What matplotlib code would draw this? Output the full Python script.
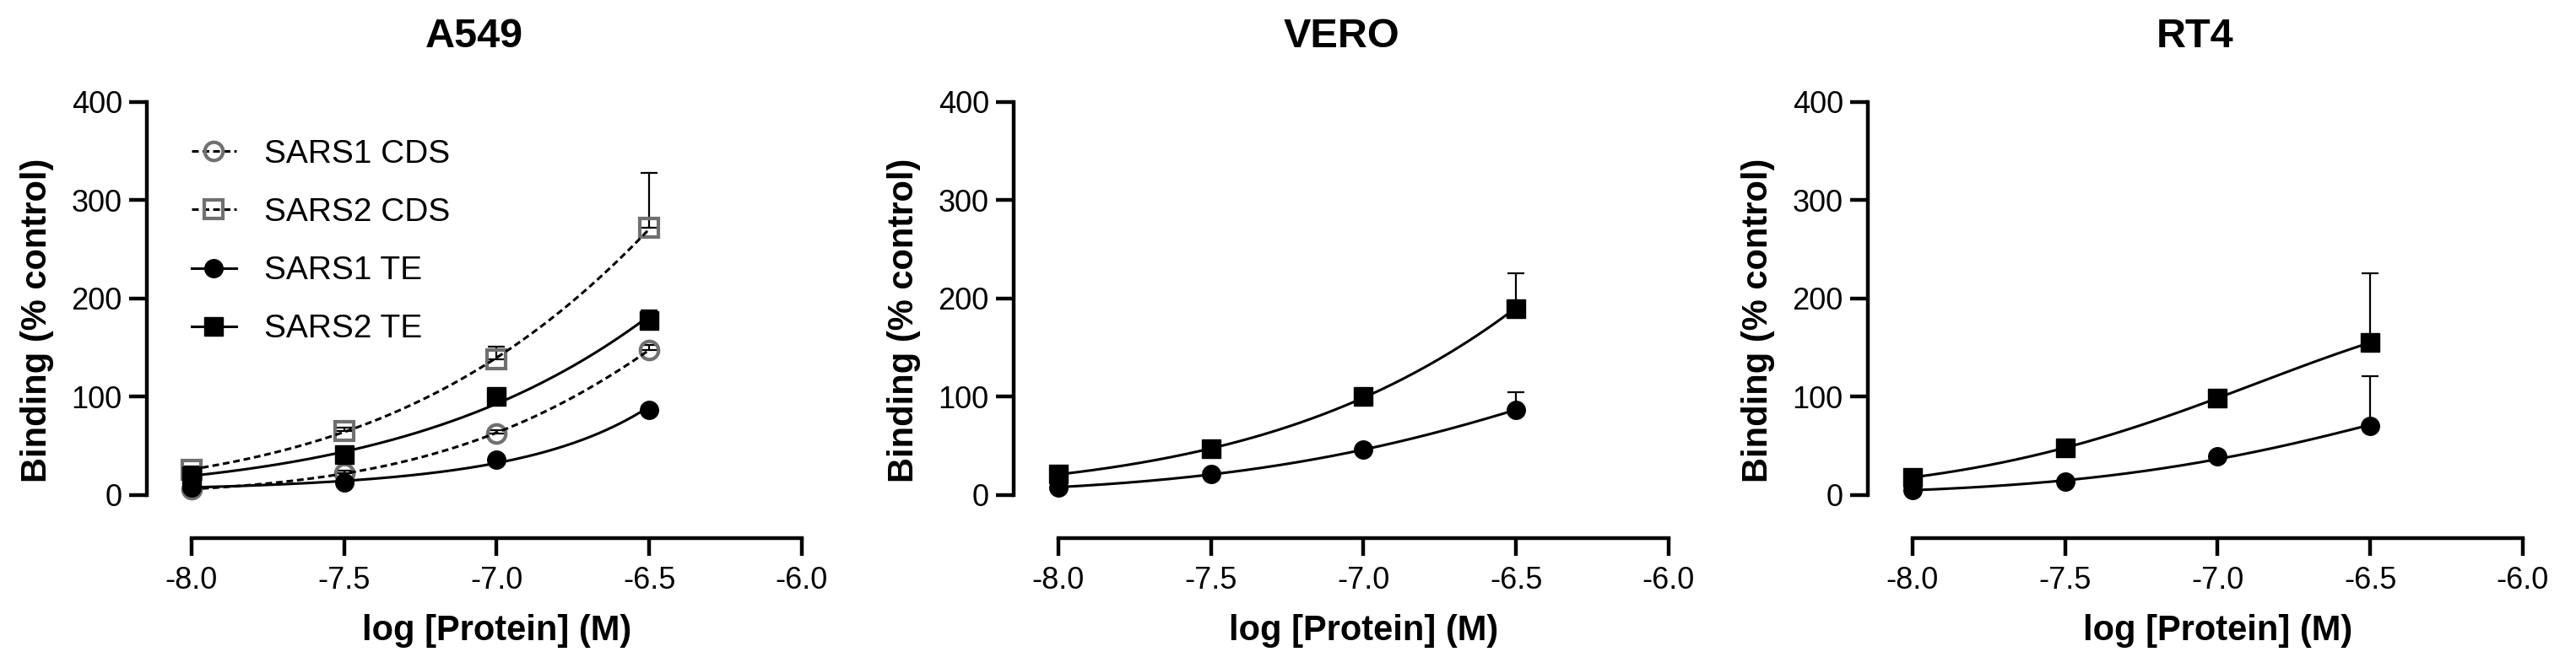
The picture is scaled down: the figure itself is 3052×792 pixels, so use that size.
import numpy as np
import matplotlib
matplotlib.use('Agg')
import matplotlib.pyplot as plt
import matplotlib.transforms as mtransforms
from matplotlib.lines import Line2D

plt.rcParams['font.family'] = ['Liberation Sans', 'DejaVu Sans']

# log concentration (M)
x_log = [-8.0, -7.5, -7.0, -6.5]

# A549
a549_sars1_cds = [6, 22, 63, 148]
a549_sars1_cds_err = [2, 3, 3, 5]
a549_sars2_cds = [26, 65, 138, 272]
a549_sars2_cds_err = [3, 4, 13, 56]
a549_sars1_te = [8, 13, 36, 87]
a549_sars1_te_err = [1, 2, 2, 3]
a549_sars2_te = [20, 41, 100, 178]
a549_sars2_te_err = [2, 3, 3, 10]

# VERO
vero_sars1_te = [8, 21, 46, 87]
vero_sars1_te_err = [1, 2, 2, 18]
vero_sars2_te = [21, 47, 100, 190]
vero_sars2_te_err = [2, 3, 3, 36]

# RT4
rt4_sars1_te = [5, 14, 39, 70]
rt4_sars1_te_err = [1, 2, 3, 51]
rt4_sars2_te = [18, 48, 99, 155]
rt4_sars2_te_err = [2, 3, 3, 71]

titles = ['A549', 'VERO', 'RT4']
labels = ['SARS1 CDS', 'SARS2 CDS', 'SARS1 TE', 'SARS2 TE']
yticks = [0, 100, 200, 300, 400]
xticks = [-8.0, -7.5, -7.0, -6.5, -6.0]

gray = '#707070'
styles = {
    'SARS1 CDS': dict(marker='o', mfc='none', mec=gray, ls=(0, (2.6, 1.5))),
    'SARS2 CDS': dict(marker='s', mfc='none', mec=gray, ls=(0, (2.6, 1.5))),
    'SARS1 TE': dict(marker='o', mfc='black', mec='black', ls='-'),
    'SARS2 TE': dict(marker='s', mfc='black', mec='black', ls='-'),
}

panels = [
    [('SARS1 CDS', a549_sars1_cds, a549_sars1_cds_err),
     ('SARS2 CDS', a549_sars2_cds, a549_sars2_cds_err),
     ('SARS1 TE', a549_sars1_te, a549_sars1_te_err),
     ('SARS2 TE', a549_sars2_te, a549_sars2_te_err)],
    [('SARS1 TE', vero_sars1_te, vero_sars1_te_err),
     ('SARS2 TE', vero_sars2_te, vero_sars2_te_err)],
    [('SARS1 TE', rt4_sars1_te, rt4_sars1_te_err),
     ('SARS2 TE', rt4_sars2_te, rt4_sars2_te_err)],
]

W, H = 3052, 792
fig = plt.figure(figsize=(W/100, H/100), dpi=100)

lefts = [174, 1201, 2213]   # pixel position of y spine
axw = 776
top_px, bot_px = 121, 638
xmin = -8.0 - 53/361.5
ymin = -(bot_px - 587)/1.1625
ms = 15.5

for k in range(3):
    ax = fig.add_axes([lefts[k]/W, (H-bot_px)/H, axw/W, (bot_px-top_px)/H])
    xx = np.array(x_log)
    xs = np.linspace(-8.0, -6.5, 200)
    for name, yy, ee in panels[k]:
        st = styles[name]
        yy = np.array(yy, dtype=float)
        # smooth fit line: least squares quadratic on log(response)
        p = np.polyfit(xx, np.log(yy), 2)
        ax.plot(xs, np.exp(np.polyval(p, xs)), color='black', lw=2.2, ls=st['ls'], zorder=4, clip_on=False)
        ax.errorbar(xx, yy, yerr=[np.zeros(4), ee], fmt='none', ecolor='black',
                    elinewidth=1.6, capsize=7, capthick=1.6, zorder=2, clip_on=False)
        ax.plot(xx, yy, ls='none', marker=st['marker'], ms=ms, mfc=st['mfc'], mec=st['mec'],
                mew=3 if st['mfc'] == 'none' else 1, zorder=3, clip_on=False)

    ax.set_xlim(xmin, -6.0)
    ax.set_ylim(ymin, 400)
    for s in ['top', 'right']:
        ax.spines[s].set_visible(False)
    ax.spines['left'].set_bounds(0, 400)
    ax.spines['bottom'].set_bounds(-8.0, -6.0)
    ax.spines['left'].set_linewidth(3.2)
    ax.spines['bottom'].set_linewidth(3.2)
    ax.spines['left'].set_capstyle('projecting')
    ax.spines['bottom'].set_capstyle('projecting')
    ax.set_yticks(yticks)
    ax.set_xticks(xticks)
    ax.set_xticklabels(['%.1f' % v for v in xticks])
    ax.tick_params(axis='both', direction='out', length=15, width=3.2, labelsize=26)
    ax.tick_params(axis='y', pad=6)
    ax.tick_params(axis='x', pad=9)

    ax.set_title(titles[k], fontsize=35, fontweight='bold', pad=47)
    ax.set_ylabel('Binding (% control)', fontsize=30, fontweight='bold')
    ax.yaxis.set_label_coords(-0.142, 0.5)
    ax.set_xlabel('log [Protein] (M)', fontsize=30, fontweight='bold')
    trans = mtransforms.blended_transform_factory(ax.transData, ax.transAxes)
    ax.xaxis.set_label_coords(-7.0, -0.175, transform=trans)

    if k == 0:
        handles = []
        for name in labels:
            st = styles[name]
            handles.append(Line2D([], [], color='black', lw=2.2, ls=st['ls'], marker=st['marker'],
                                  ms=ms, mfc=st['mfc'], mec=st['mec'],
                                  mew=3 if st['mfc'] == 'none' else 1))
        ax.legend(handles, labels, loc='upper left', bbox_to_anchor=(227/W, (H-165)/H),
                  bbox_transform=fig.transFigure, frameon=False, fontsize=28,
                  handlelength=1.36, handletextpad=0.85, labelspacing=0.85,
                  borderpad=0, borderaxespad=0)

fig.savefig('out.png', dpi=100)
